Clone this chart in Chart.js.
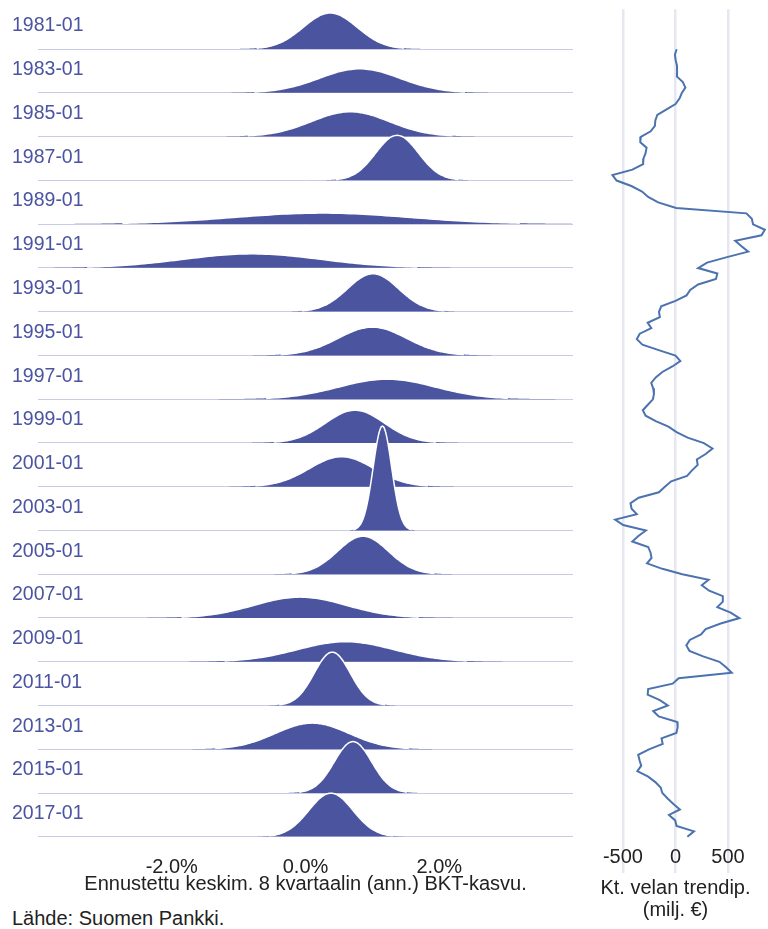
<!DOCTYPE html>
<html>
<head>
<meta charset="utf-8">
<script src="https://cdn.jsdelivr.net/npm/chart.js@4.4.1/dist/chart.umd.min.js"></script>
<style>
  body { margin: 0; background: #fff; }
  #wrap { position: relative; width: 768px; height: 929px; overflow: hidden; }
  #ridge { position: absolute; left: 0; top: 0; }
  #debt { position: absolute; left: 578px; top: 0; }
  .source { position: absolute; left: 12px; top: 906px; font: 20px "Liberation Sans", Arial, sans-serif; color: #222; line-height: 1.2; }
</style>
</head>
<body>
<div id="wrap">
  <canvas id="ridge" width="590" height="896"></canvas>
  <canvas id="debt" width="190" height="921"></canvas>
  <div class="source">Lähde: Suomen Pankki.</div>
</div>
<script>
// Ridge rows: forecast distribution of 8-quarter avg GDP growth (%)
const rowLabels = ['1981-01', '1983-01', '1985-01', '1987-01', '1989-01', '1991-01', '1993-01',
  '1995-01', '1997-01', '1999-01', '2001-01', '2003-01', '2005-01', '2007-01', '2009-01',
  '2011-01', '2013-01', '2015-01', '2017-01'];
const growthMeans = [0.37, 0.81, 0.67, 1.37, 0.25, -0.8, 1.01, 1.0, 1.22, 0.74, 0.54, 1.15,
  0.86, -0.08, 0.6, 0.4, 0.1, 0.71, 0.38];
const growthSds = [0.40, 0.60, 0.58, 0.32, 1.31, 1.03, 0.38, 0.51, 0.72, 0.44, 0.48, 0.138,
  0.38, 0.69, 0.72, 0.27, 0.55, 0.28, 0.33];
const growthTicks = [-2, 0, 2];

// Debt trend gap (milj. €), quarterly from 1981Q1
const debtStartYear = 1981;
const debtValues = [
  11, -6, 2, 14, 15, 14, 70, 94, 60, 38,
  0, -85, -173, -192, -196, -236, -330, -335, -275, -285,
  -305, -308, -410, -600, -560, -420, -318, -260, -165, 6,
  675, 726, 738, 850, 818, 568, 628, 692, 490, 300,
  215, 398, 385, 215, 140, 105, 0, -136, -157, -149,
  -265, -230, -340, -368, -315, -160, 0, 46, -30, -125,
  -188, -231, -212, -205, -215, -263, -311, -284, -188, -67,
  10, 115, 270, 352, 287, 203, 211, 157, 110, -41,
  -101, -158, -350, -428, -418, -368, -574, -498, -282, -353,
  -411, -260, -238, -228, -271, -125, 65, 315, 250, 320,
  450, 450, 398, 525, 608, 430, 287, 243, 136, 103,
  133, 263, 418, 481, 535, 30, -27, -260, -265, -149,
  -73, -212, -160, 17, 20, 8, -133, -122, -252, -355,
  -342, -326, -363, -260, -192, -141, -125, -75, -20, 42,
  -62, -3, 10, 176, 113
];
const debtTicks = [-500, 0, 500];

Chart.defaults.font.family = '"Liberation Sans", Arial, sans-serif';
Chart.defaults.font.size = 20;
Chart.defaults.color = '#222';

const FILL = '#4b559f';
const nRows = rowLabels.length;
const densityScale = 0.329; // peak height (rows) * sd

function densityPoints(m, s, base) {
  const pts = [];
  const lo = Math.max(-4, m - 3.5 * s), hi = Math.min(4, m + 3.5 * s);
  const n = 120;
  for (let k = 0; k <= n; k++) {
    const x = lo + (hi - lo) * k / n;
    const z = (x - m) / s;
    pts.push({ x, y: base + densityScale / s * Math.exp(-0.5 * z * z) });
  }
  return pts;
}

const ridgeSets = rowLabels.map((lab, i) => {
  const base = nRows - 1 - i;
  // keep the white outline off the flat tails so the baseline stays visible
  const edge = (ctx) => (ctx.p0.parsed.y - base < 0.02 && ctx.p1.parsed.y - base < 0.02)
    ? 'rgba(255,255,255,0)' : '#ffffff';
  return {
    label: lab,
    data: densityPoints(growthMeans[i], growthSds[i], base),
    fill: { value: base },
    backgroundColor: FILL,
    borderColor: '#ffffff',
    segment: { borderColor: edge },
    borderWidth: 1.5,
    pointRadius: 0,
    cubicInterpolationMode: 'monotone',
    order: nRows - i,
  };
});

new Chart(document.getElementById('ridge'), {
  type: 'line',
  data: { datasets: ridgeSets },
  options: {
    responsive: false,
    animation: false,
    layout: { padding: { left: 12, right: 17, top: 5.25, bottom: 0 } },
    plugins: { legend: { display: false }, tooltip: { enabled: false } },
    scales: {
      x: {
        type: 'linear',
        min: -4,
        max: 4,
        afterBuildTicks: (s) => { s.ticks = growthTicks.map(v => ({ value: v })); },
        afterFit: (s) => { s.height = 59.2; s.paddingLeft = 0; s.paddingRight = 0; },
        ticks: { padding: 10.2, color: '#222', callback: (v) => v.toFixed(1) + '%' },
        grid: { display: false },
        border: { display: false },
        title: {
          display: true,
          text: 'Ennustettu keskim. 8 kvartaalin (ann.) BKT-kasvu.',
          color: '#222',
          padding: { top: 0, bottom: 0 },
        },
      },
      y: {
        type: 'linear',
        min: 0,
        max: nRows,
        afterBuildTicks: (s) => { s.ticks = rowLabels.map((_, i) => ({ value: nRows - 1 - i })); },
        afterFit: (s) => { s.width = 26; s.paddingTop = 0; s.paddingBottom = 0; },
        ticks: {
          autoSkip: false,
          mirror: true,
          padding: -26,
          labelOffset: -23,
          color: '#4a54a0',
          font: { size: 19.5 },
          callback: (v) => rowLabels[nRows - 1 - v],
        },
        grid: { color: '#c9cbe5', lineWidth: 1, drawTicks: false },
        border: { display: false },
      },
    },
  },
});

new Chart(document.getElementById('debt'), {
  type: 'line',
  data: {
    datasets: [{
      label: 'Kt. velan trendip.',
      data: debtValues.map((v, i) => ({ x: v, y: debtStartYear + i / 4 })),
      borderColor: '#4c72b0',
      borderWidth: 2,
      pointRadius: 0,
      tension: 0,
      fill: false,
    }],
  },
  options: {
    responsive: false,
    animation: false,
    layout: { padding: { left: 5, right: 0, top: 9.3, bottom: 0 } },
    plugins: { legend: { display: false }, tooltip: { enabled: false } },
    scales: {
      x: {
        type: 'linear',
        min: -880,
        max: 880,
        afterBuildTicks: (s) => { s.ticks = debtTicks.map(v => ({ value: v })); },
        afterFit: (s) => { s.height = 76; },
        ticks: { padding: -27.5, color: '#222' },
        grid: { color: '#e6e7f1', lineWidth: 2.5, drawTicks: true, tickLength: 28 },
        border: { display: false },
        title: {
          display: true,
          text: ['Kt. velan trendip.', '(milj. €)'],
          color: '#222',
          font: { lineHeight: 1.1 },
          padding: { top: 0, bottom: 0 },
        },
      },
      y: {
        type: 'linear',
        reverse: true,
        min: 1979.171,
        max: 2017.375,
        display: false,
      },
    },
  },
});
</script>
</body>
</html>
